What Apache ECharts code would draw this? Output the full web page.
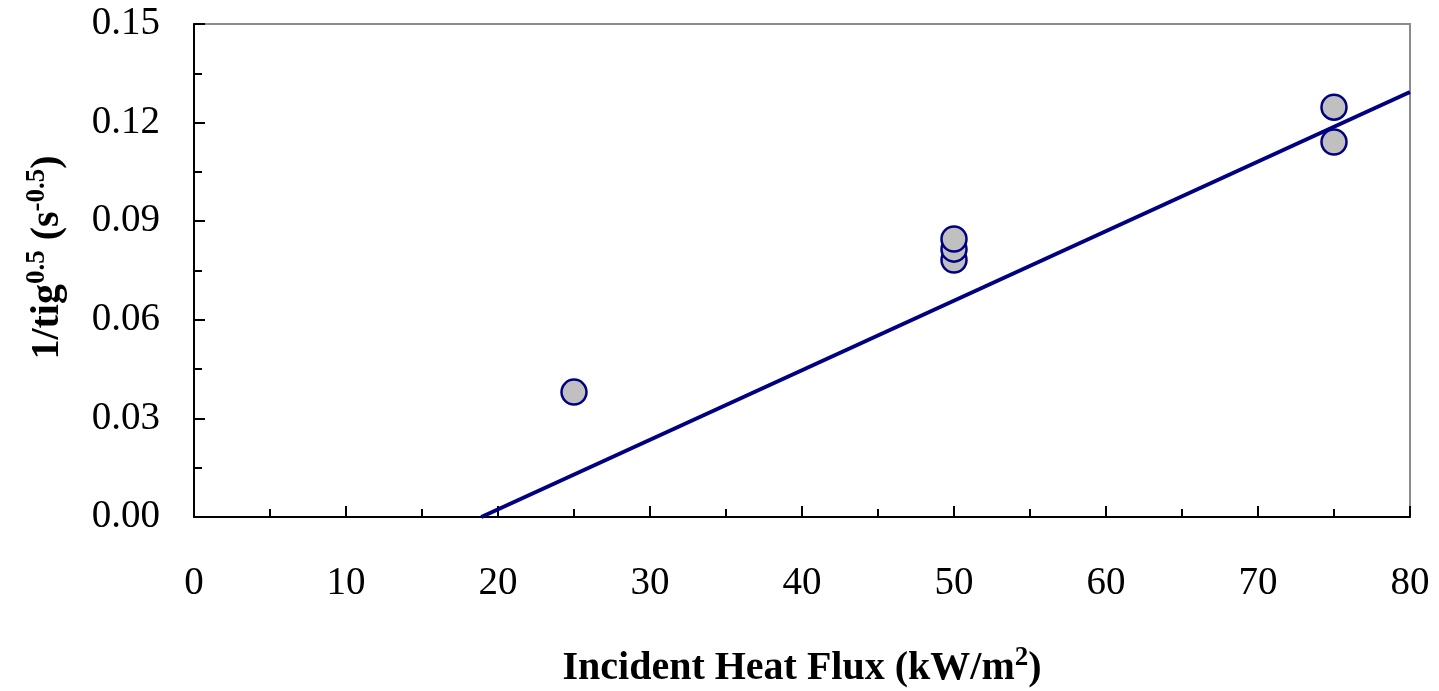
<!DOCTYPE html>
<html>
<head>
<meta charset="utf-8">
<script src="https://cdn.jsdelivr.net/npm/echarts@6/dist/echarts.min.js"></script>
<style>
html,body{margin:0;padding:0;background:#fff;}
#chart{width:1439px;height:691px;}
</style>
</head>
<body>
<div id="chart"></div>
<script>
// Measured data (incident heat flux kW/m2, 1/tig^0.5)
var fluxValues = [25, 50, 50, 50, 75, 75];
var invSqrtTig = [0.038, 0.0782, 0.0815, 0.0846, 0.1141, 0.1247];
// Linear fit line endpoints
var fitX = [18.9, 80];
var fitY = [0, 0.1293];
var xTicks = [0, 10, 20, 30, 40, 50, 60, 70, 80];
var yTicks = [0, 0.03, 0.06, 0.09, 0.12, 0.15];

var serif = "'Liberation Serif','Times New Roman',serif";
var chart = echarts.init(document.getElementById('chart'));
var scatterData = fluxValues.map(function(x, i){ return [x, invSqrtTig[i]]; });
var lineData = fitX.map(function(x, i){ return [x, fitY[i]]; });

var richTitle = {
  b: {fontFamily: serif, fontSize: 40, fontWeight: 'bold', color: '#000', verticalAlign: 'bottom', lineHeight: 44},
  sup: {fontFamily: serif, fontSize: 27, fontWeight: 'bold', color: '#000', verticalAlign: 'top', lineHeight: 27}
};

chart.setOption({
  animation: false,
  backgroundColor: '#fff',
  grid: {left: 194, right: 29, top: 24, bottom: 174, show: true, borderColor: '#8c8c8c', borderWidth: 2,
         containLabel: false, outerBoundsMode: 'none'},
  xAxis: {
    type: 'value', min: xTicks[0], max: xTicks[xTicks.length-1], interval: 10,
    axisLine: {show: true, onZero: false, lineStyle: {color: '#000', width: 2}},
    axisTick: {show: true, inside: true, length: 11, lineStyle: {color: '#000', width: 2}},
    minorTick: {show: true, splitNumber: 2, length: 8, lineStyle: {color: '#000', width: 2}},
    splitLine: {show: false},
    axisLabel: {fontFamily: serif, fontSize: 39, color: '#000', margin: 47},
    name: '{b|Incident Heat Flux (kW/m}{sup|2}{b|)}',
    nameLocation: 'middle', nameGap: 128,
    nameTextStyle: {rich: richTitle}
  },
  yAxis: {
    type: 'value', min: yTicks[0], max: yTicks[yTicks.length-1], interval: 0.03,
    axisLine: {show: true, onZero: false, lineStyle: {color: '#000', width: 2}},
    axisTick: {show: true, inside: true, length: 11, lineStyle: {color: '#000', width: 2}},
    minorTick: {show: true, splitNumber: 2, length: 8, lineStyle: {color: '#000', width: 2}},
    splitLine: {show: false},
    axisLabel: {fontFamily: serif, fontSize: 39, color: '#000', margin: 34,
      formatter: function(v){ return v.toFixed(2); }},
    name: '{b|1/tig}{sup|0.5}{b| (s}{sup|-0.5}{b|)}',
    nameLocation: 'middle', nameGap: 126, nameRotate: 90,
    nameTextStyle: {padding: [0, 0, 0, 26], rich: richTitle}
  },
  series: [
    {
      type: 'scatter', data: scatterData, symbol: 'circle', symbolSize: 25, z: 2,
      itemStyle: {color: '#c0c0c0', borderColor: '#000080', borderWidth: 2.5, opacity: 1}
    },
    {
      type: 'line', data: lineData, symbol: 'none', z: 3,
      lineStyle: {color: '#000080', width: 4}
    }
  ]
});
</script>
</body>
</html>
